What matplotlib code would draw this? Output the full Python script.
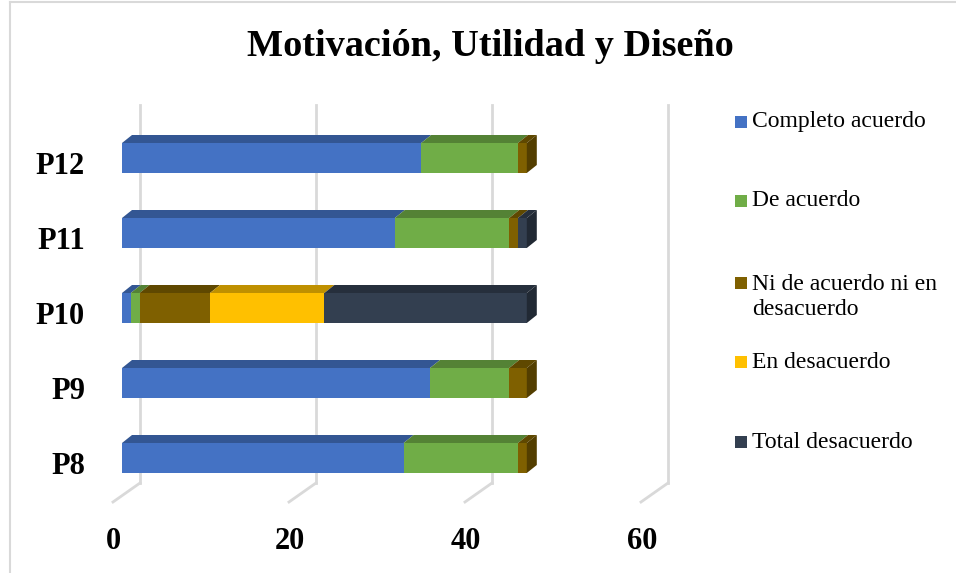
import matplotlib
matplotlib.use('Agg')
import matplotlib.pyplot as plt
from matplotlib.patches import Polygon, Rectangle
from matplotlib.lines import Line2D
from matplotlib.colors import to_rgb

# data
categories = ['P8', 'P9', 'P10', 'P11', 'P12']
series_names = ['Completo acuerdo', 'De acuerdo', 'Ni de acuerdo ni en\ndesacuerdo',
                'En desacuerdo', 'Total desacuerdo']
completo_acuerdo = [32, 35, 1, 31, 34]
de_acuerdo = [13, 9, 1, 13, 11]
ni_ni = [1, 2, 8, 1, 1]
en_desacuerdo = [0, 0, 13, 0, 0]
total_desacuerdo = [0, 0, 23, 1, 0]
x_ticks = [0, 20, 40, 60]

series = [completo_acuerdo, de_acuerdo, ni_ni, en_desacuerdo, total_desacuerdo]
colors = ['#4472C4', '#70AD47', '#7F6000', '#FFC000', '#333F50']

W, H = 956, 573
SERIF = 'Liberation Serif'
GRID = '#D9D9D9'

# pixel layout of the front plane
X0_PX, SX = 122, 8.8        # value 0 and px per unit
Y0_PX, SY = 458, 75         # P8 centre and px per category
AX_L, AX_R, AX_T, AX_B = 100, 700, 95, 515


def shade(c, f):
    r, g, b = to_rgb(c)
    return (r * f, g * f, b * f)


fig = plt.figure(figsize=(W / 100, H / 100), dpi=100)
ax = fig.add_axes([AX_L / W, 1 - AX_B / H, (AX_R - AX_L) / W, (AX_B - AX_T) / H])
ax.set_xlim((AX_L - X0_PX) / SX, (AX_R - X0_PX) / SX)
ax.set_ylim((Y0_PX - AX_B) / SY, (Y0_PX - AX_T) / SY)
ax.axis('off')

# 3d offsets in data units
wall_dx = 18 / SX
floor_dx = (113 - X0_PX) / SX
floor_back = (Y0_PX - 483) / SY
floor_front = (Y0_PX - 502) / SY
wall_top = (Y0_PX - 105) / SY
ddx, ddy = 10 / SX, 8 / SY
bar_h = 30 / SY

for v in x_ticks:
    ax.plot([v + wall_dx, v + wall_dx], [floor_back, wall_top], color=GRID, lw=2, zorder=1)
    ax.plot([v + wall_dx, v + floor_dx], [floor_back, floor_front], color=GRID, lw=2, zorder=1)
    ax.text(v + floor_dx + 0.1, (Y0_PX - 549) / SY, str(v), ha='center', va='baseline',
            fontsize=22, fontweight='bold', family=SERIF, clip_on=False)

for i, cat in enumerate(categories):
    left = 0
    top = i + bar_h / 2
    bot = i - bar_h / 2
    last = None
    for vals, col in zip(series, colors):
        w = vals[i]
        if w <= 0:
            continue
        x1 = left + w
        ax.add_patch(Rectangle((left, bot), w, bar_h, facecolor=col, lw=0, zorder=3))
        ax.add_patch(Polygon([(left, top), (x1, top), (x1 + ddx, top + ddy), (left + ddx, top + ddy)],
                             closed=True, facecolor=shade(col, 0.75), lw=0, zorder=3))
        last = (x1, col)
        left = x1
    x1, col = last
    ax.add_patch(Polygon([(x1, bot), (x1 + ddx, bot + ddy), (x1 + ddx, top + ddy), (x1, top)],
                         closed=True, facecolor=shade(col, 0.65), lw=0, zorder=3))
    ax.text(-0.025, i - 16 / SY, cat, transform=ax.get_yaxis_transform(), ha='right',
            va='baseline', fontsize=22, fontweight='bold', family=SERIF, clip_on=False)

# title
fig.text(490 / W, 1 - 56 / H, 'Motivación, Utilidad y Diseño', ha='center', va='baseline',
         fontsize=27.5, fontweight='bold', family=SERIF)

# legend
legend_y = [122, 201, 297, 362, 442]
for name, col, ly in zip(series_names, colors, legend_y):
    n_lines = name.count('\n') + 1
    my = ly - (n_lines - 1) * 14
    fig.patches.append(Rectangle(((735) / W, 1 - (my + 6) / H), 12 / W, 12 / H,
                                 facecolor=col, lw=0, transform=fig.transFigure))
    fig.text(752 / W, 1 - ly / H, name, ha='left', va='center', fontsize=17,
             family=SERIF, linespacing=1.2)

# chart border
fig.lines.append(Line2D([10 / W, 10 / W], [0, 1 - 2 / H], color=GRID, lw=1.5,
                        transform=fig.transFigure))
fig.lines.append(Line2D([10 / W, 1], [1 - 2 / H, 1 - 2 / H], color=GRID, lw=1.5,
                        transform=fig.transFigure))

fig.savefig('out.png', dpi=100)
